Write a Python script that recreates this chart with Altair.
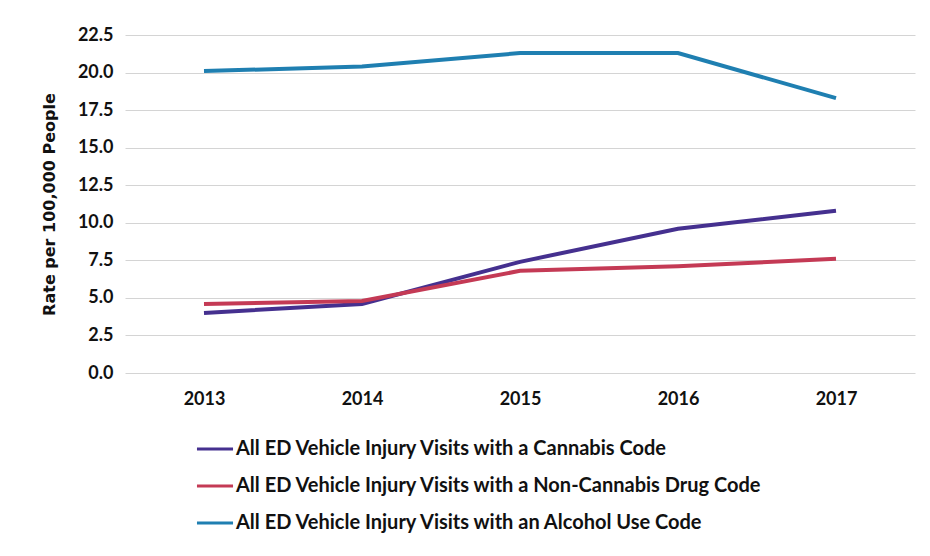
import altair as alt
import pandas as pd

years = ["2013", "2014", "2015", "2016", "2017"]
cannabis = [4.0, 4.6, 7.4, 9.6, 10.8]
non_cannabis = [4.6, 4.8, 6.8, 7.1, 7.6]
alcohol = [20.1, 20.4, 21.3, 21.3, 18.3]

series_names = [
    "All ED Vehicle Injury Visits with a Cannabis Code",
    "All ED Vehicle Injury Visits with a Non-Cannabis Drug Code",
    "All ED Vehicle Injury Visits with an Alcohol Use Code",
]
colors = ["#45308f", "#c43a55", "#1f7fb1"]
y_ticks = [0, 2.5, 5, 7.5, 10, 12.5, 15, 17.5, 20, 22.5]

rows = []
for name, vals in zip(series_names, [cannabis, non_cannabis, alcohol]):
    for y, v in zip(years, vals):
        rows.append({"Year": y, "Rate": v, "Series": name})
df = pd.DataFrame(rows)

chart = alt.Chart(df).mark_line(strokeWidth=4).encode(
    x=alt.X("Year:N", scale=alt.Scale(type="point", padding=0.5),
            axis=alt.Axis(title=None, labelAngle=0, labelFont="Lato", labelFontWeight="bold",
                          labelFontSize=18, labelColor="#111", labelPadding=17,
                          domain=False, ticks=False, grid=False)),
    y=alt.Y("Rate:Q", scale=alt.Scale(domain=[0, 22.5], nice=False),
            axis=alt.Axis(title="Rate per 100,000 People", values=y_ticks, format=".1f",
                          labelFont="Lato", labelFontWeight="bold", labelFontSize=18,
                          labelColor="#111", labelPadding=12,
                          titleFont="DejaVu Sans", titleFontWeight="bold",
                          titleFontSize=16, titleColor="#111", titlePadding=20,
                          domain=False, ticks=False, gridColor="#d4d4d4", gridWidth=1)),
    color=alt.Color("Series:N", scale=alt.Scale(domain=series_names, range=colors),
                    legend=alt.Legend(title=None, orient="none", legendX=70, legendY=394,
                                      direction="vertical", symbolType="stroke",
                                      symbolSize=1300, symbolStrokeWidth=3,
                                      labelFont="Lato", labelFontWeight="bold",
                                      labelFontSize=20, labelColor="#111", labelOffset=1,
                                      labelLimit=700, rowPadding=7, symbolOffset=0)),
).properties(
    width=790, height=338,
    autosize=alt.AutoSizeParams(type="none"),
    padding={"left": 117, "top": 27, "right": 5, "bottom": 175},
).configure_view(stroke=None)

chart.save("out.html", embed_options={"renderer": "svg", "actions": False})
